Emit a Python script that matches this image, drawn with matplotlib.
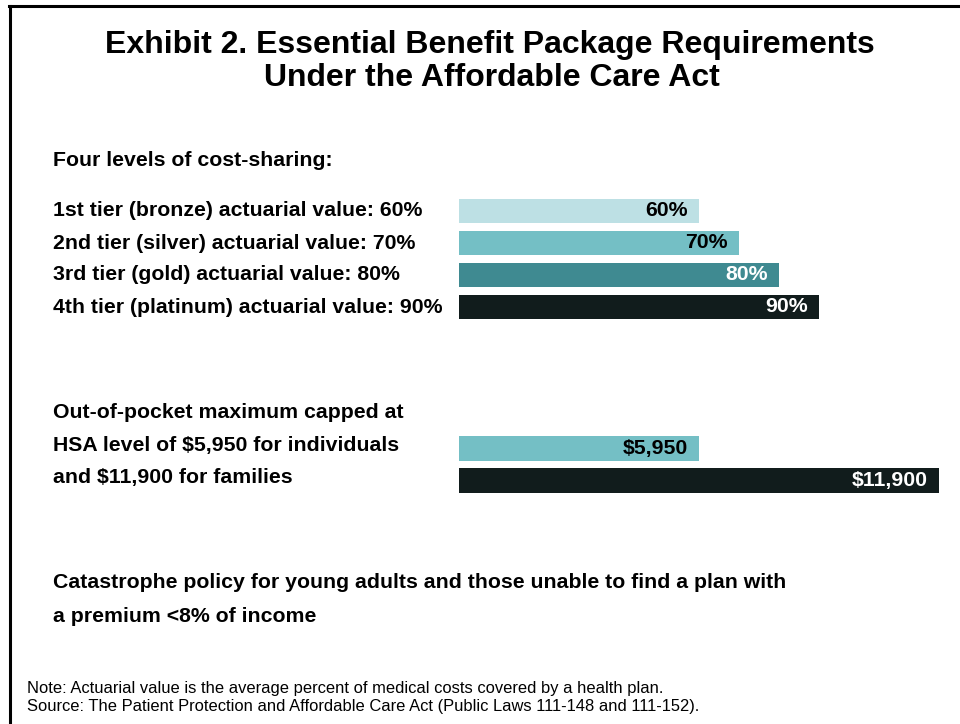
import matplotlib.pyplot as plt
from matplotlib.lines import Line2D

plt.rcParams['font.family'] = ['Liberation Sans', 'DejaVu Sans']

# Data
tier_labels = ["1st tier (bronze) actuarial value: 60%",
               "2nd tier (silver) actuarial value: 70%",
               "3rd tier (gold) actuarial value: 80%",
               "4th tier (platinum) actuarial value: 90%"]
tier_values = [60, 70, 80, 90]
tier_text = ["60%", "70%", "80%", "90%"]
tier_colors = ["#BDE0E4", "#74BFC5", "#3F8A91", "#111C1C"]
tier_text_colors = ["black", "black", "white", "white"]

oop_values = [5950, 11900]
oop_text = ["$5,950", "$11,900"]
oop_colors = ["#74BFC5", "#111C1C"]
oop_text_colors = ["black", "white"]

W, H = 960, 724
fig = plt.figure(figsize=(W / 100, H / 100), dpi=100)

def fx(px):
    return px / W

def fy(py):
    return 1 - py / H

# frame lines (top and left)
fig.add_artist(Line2D([fx(9), fx(960)], [fy(5.5), fy(5.5)], color="black", lw=2.2))
fig.add_artist(Line2D([fx(10), fx(10)], [fy(5.5), fy(724)], color="black", lw=2.2))

# title
fig.text(fx(490), fy(45), "Exhibit 2. Essential Benefit Package Requirements",
         ha="center", va="center", fontsize=23, fontweight="bold")
fig.text(fx(492), fy(78), "Under the Affordable Care Act",
         ha="center", va="center", fontsize=23, fontweight="bold")

lab = dict(ha="left", va="center", fontsize=15.3, fontweight="bold")
fig.text(fx(53), fy(160), "Four levels of cost-sharing:", **lab)

# tier bars
top, bot = 195, 323
ax1 = fig.add_axes([fx(459), fy(bot), fx(480), (bot - top) / H])
y1 = list(range(len(tier_values)))
ax1.barh(y1, tier_values, height=0.75, color=tier_colors)
ax1.set_xlim(0, 120)
ax1.set_ylim(3.5, -0.5)
ax1.axis("off")
for i, v in enumerate(tier_values):
    ax1.annotate(tier_text[i], (v, i), xytext=(-11, 0), textcoords="offset pixels",
                 ha="right", va="center", fontsize=15.3, fontweight="bold",
                 color=tier_text_colors[i])
    fig.text(fx(53), fy(211 + 32 * i), tier_labels[i], **lab)

# out-of-pocket bars
top, bot = 432, 497
ax2 = fig.add_axes([fx(459), fy(bot), fx(480), (bot - top) / H])
y2 = list(range(len(oop_values)))
ax2.barh(y2, oop_values, height=0.78, color=oop_colors)
ax2.set_xlim(0, 11900)
ax2.set_ylim(1.5, -0.5)
ax2.axis("off")
for i, v in enumerate(oop_values):
    ax2.annotate(oop_text[i], (v, i), xytext=(-11, 0), textcoords="offset pixels",
                 ha="right", va="center", fontsize=15.3, fontweight="bold",
                 color=oop_text_colors[i])

fig.text(fx(53), fy(413), "Out-of-pocket maximum capped at", **lab)
fig.text(fx(53), fy(446), "HSA level of $5,950 for individuals", **lab)
fig.text(fx(53), fy(478), "and $11,900 for families", **lab)

fig.text(fx(53), fy(583), "Catastrophe policy for young adults and those unable to find a plan with", **lab)
fig.text(fx(53), fy(616), "a premium <8% of income", **lab)

note = dict(ha="left", va="center", fontsize=11.9)
fig.text(fx(27), fy(688), "Note: Actuarial value is the average percent of medical costs covered by a health plan.", **note)
fig.text(fx(27), fy(706), "Source: The Patient Protection and Affordable Care Act (Public Laws 111-148 and 111-152).", **note)

fig.savefig("out.png", dpi=100)
